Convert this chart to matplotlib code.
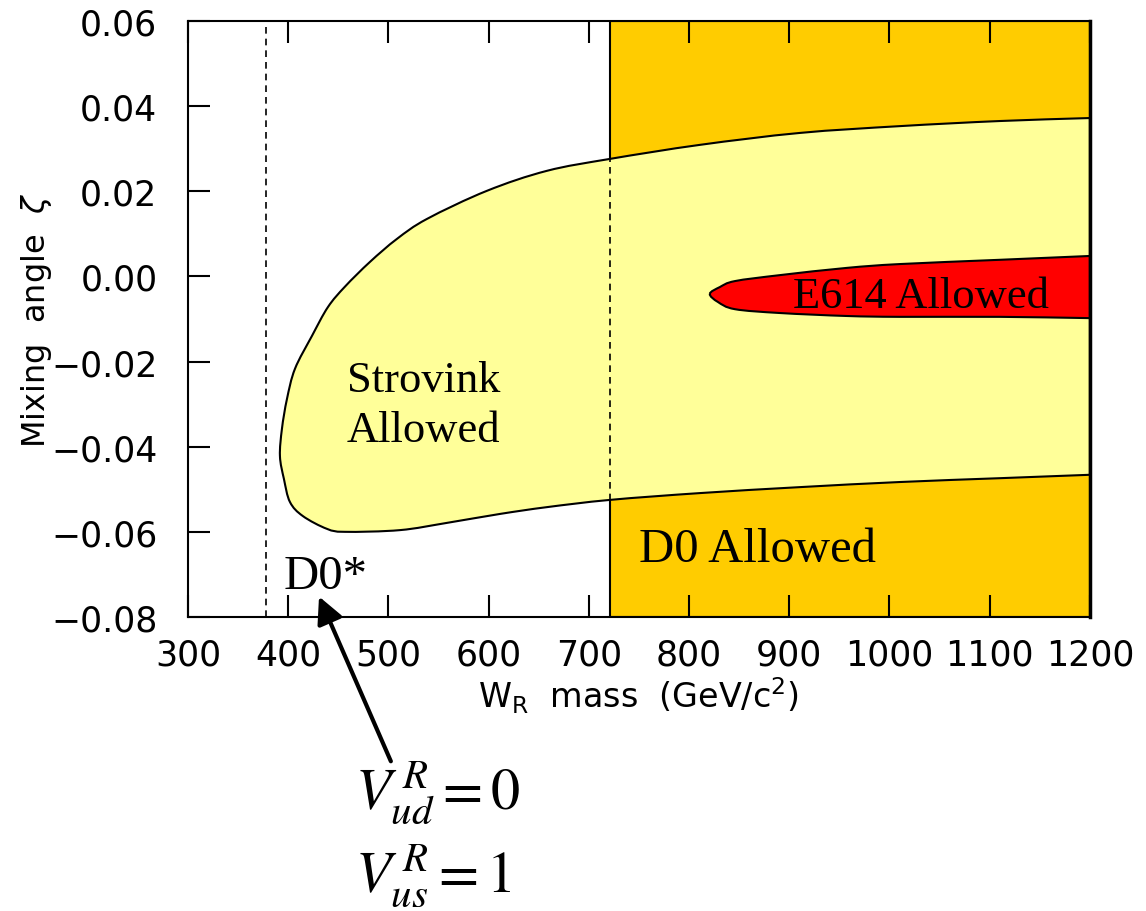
import matplotlib
matplotlib.use("Agg")
import matplotlib.pyplot as plt
import numpy as np
from matplotlib.patches import PathPatch, Rectangle
from matplotlib.path import Path

# Strovink allowed region boundary (W_R mass, mixing angle), traced clockwise
strovink_mass = [391.8, 393.8, 398.8, 406.8, 423.7, 439.7, 456.7, 481.6, 508.5, 538.5,
                 598.3, 658.2, 721.1, 810.9, 910.6, 1010.4, 1110.2, 1200.0,
                 1200.0, 1110.2, 1010.4, 910.6, 810.9, 721.1, 658.2, 611.3, 558.4,
                 511.5, 456.7, 438.7, 414.7, 401.8, 395.8]
strovink_angle = [-0.0422, -0.0358, -0.0288, -0.0217, -0.0140, -0.0072, -0.0024, 0.0034, 0.0088, 0.0135,
                  0.0201, 0.0248, 0.0276, 0.0309, 0.0337, 0.0353, 0.0365, 0.0372,
                  -0.0466, -0.0474, -0.0483, -0.0495, -0.0509, -0.0525, -0.0542, -0.0558, -0.0579,
                  -0.0596, -0.0600, -0.0593, -0.0563, -0.0530, -0.0476]

# E614 allowed region boundary
e614_mass = [820.8, 830.8, 845.8, 890.7, 957.5, 1010.4, 1110.2, 1200.0,
             1200.0, 1110.2, 1010.4, 957.5, 890.7, 845.8, 828.8]
e614_angle = [-0.0041, -0.0025, -0.0011, 0.0003, 0.0020, 0.0029, 0.0039, 0.0048,
              -0.0098, -0.0095, -0.0095, -0.0093, -0.0086, -0.0077, -0.0060]

# D0 limits
d0_mass_limit = 721
d0_star_limit = 378

x_ticks = [300, 400, 500, 600, 700, 800, 900, 1000, 1100, 1200]
y_ticks = [-0.08, -0.06, -0.04, -0.02, 0.00, 0.02, 0.04, 0.06]
x_edge = 1200


# closed smooth outline through the traced points (Catmull-Rom as cubic Beziers),
# with sharp corners where the outline meets the right axis edge
def smooth_outline(xs, ys):
    pts = np.column_stack([xs, ys])
    n = len(pts)
    on_edge = [p[0] == x_edge for p in pts]
    verts = [pts[0]]
    codes = [Path.MOVETO]
    for i in range(n):
        j, k, h = (i + 1) % n, (i + 2) % n, i - 1
        p0, p1, p2, p3 = pts[h], pts[i], pts[j], pts[k]
        if on_edge[i] and on_edge[j]:
            verts.append(p2)
            codes.append(Path.LINETO)
            continue
        c1 = p1 + (p2 - p1) / 3 if on_edge[i] else p1 + (p2 - p0) / 6
        c2 = p2 - (p2 - p1) / 3 if on_edge[j] else p2 - (p3 - p1) / 6
        verts += [c1, c2, p2]
        codes += [Path.CURVE4] * 3
    return Path(verts, codes)


fig = plt.figure(figsize=(11.46, 9.12), dpi=100)
ax = fig.add_axes([0.164, 0.3224, 0.787, 0.6535])
ax.set_xlim(300, 1200)
ax.set_ylim(-0.08, 0.06)

# D0 allowed band
ax.add_patch(Rectangle((d0_mass_limit, -0.08), 1200 - d0_mass_limit, 0.14,
                       facecolor="#FFCC00", edgecolor="black", lw=1.5, zorder=1))
# Strovink region
ax.add_patch(PathPatch(smooth_outline(strovink_mass, strovink_angle),
                       facecolor="#FFFF99", edgecolor="black", lw=1.5, zorder=2))
# E614 region
ax.add_patch(PathPatch(smooth_outline(e614_mass, e614_angle),
                       facecolor="#FF0000", edgecolor="black", lw=1.5, zorder=3))

# dashed limit lines
ax.axvline(d0_star_limit, color="black", ls=(0, (4, 3)), lw=1.2, zorder=4)
ax.axvline(d0_mass_limit, color="black", ls=(0, (4, 3)), lw=1.2, zorder=4)

# region labels
serif = "Liberation Serif"
ax.text(458.6, -0.0302, "Strovink\nAllowed", family=serif, fontsize=32, ha="left", va="center",
        linespacing=1.35, zorder=5)
ax.text(1031.5, -0.0046, "E614 Allowed", family=serif, fontsize=32, ha="center", va="center", zorder=5)
ax.text(867.9, -0.0640, "D0 Allowed", family=serif, fontsize=35, ha="center", va="center", zorder=5)
ax.text(395, -0.0704, "D0*", family=serif, fontsize=35, ha="left", va="center", zorder=5)

# arrow from the equations up to D0*
ax.annotate("", xy=(429.7, -0.0746), xytext=(503.6, -0.1145),
            arrowprops=dict(arrowstyle="-|>", color="black", lw=3, mutation_scale=40),
            annotation_clip=False)

plt.rcParams["mathtext.fontset"] = "stix"
fig.text(0.31, 1 - 793 / 912, r"$V^{\,R}_{ud} = 0$", fontsize=42, ha="left", va="center")
fig.text(0.31, 1 - 876 / 912, r"$V^{\,R}_{us} = 1$", fontsize=42, ha="left", va="center")

# axes styling
ax.set_xticks(x_ticks)
ax.set_yticks(y_ticks)
ax.set_xticklabels([str(v) for v in x_ticks])
ax.set_yticklabels(["\u2212{:.2f}".format(-v) if v < 0 else "{:.2f}".format(v) for v in y_ticks])
ax.tick_params(axis="both", direction="in", length=16, width=1.5, labelsize=25,
               top=True, right=False)
ax.tick_params(axis="x", pad=15)
ax.tick_params(axis="y", pad=22)
ax.set_xlabel(r"W$_\mathregular{R}$  mass  (GeV/c$^\mathregular{2}$)", fontsize=24, labelpad=2)
ax.set_ylabel(r"Mixing  angle  $\zeta$", fontsize=23, labelpad=-2)
for side in ["left", "bottom", "top"]:
    ax.spines[side].set_linewidth(1.5)
ax.spines["right"].set_linewidth(2.5)
for s in ax.spines.values():
    s.set_zorder(6)

fig.savefig("out.png", dpi=100)
